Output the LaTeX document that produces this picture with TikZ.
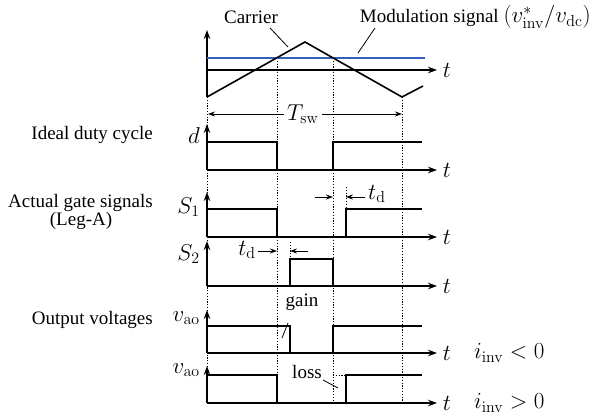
\documentclass[tikz,border=0pt]{standalone}
\usepackage[no-math]{fontspec}
\setmainfont{Liberation Serif}
\usepackage{graphicx}
\usetikzlibrary{arrows.meta}
\definecolor{modblue}{RGB}{52,98,185}
\newcommand{\mth}[1]{\scalebox{1.33}{\LARGE$#1$}}
\begin{document}
\begin{tikzpicture}[x=1pt,y=-1pt,
  lbl/.style={font=\fontsize{19}{22}\selectfont, inner sep=0pt},
  mlbl/.style={inner sep=0pt},
  axis/.style={line width=1.1pt, -{Stealth[length=9pt,width=6.5pt]}},
  sig/.style={line width=2pt, line join=miter},
  dots/.style={line width=0.8pt, dash pattern=on 1.2pt off 1.6pt},
  dim/.style={line width=0.9pt, -{Stealth[length=7pt,width=5pt]}},
  lead/.style={line width=0.8pt}]
\useasboundingbox (0,0) rectangle (592,417);

% dotted guide lines
\draw[dots] (207,97) -- (207,403);
\draw[dots] (277,58) -- (277,375);
\draw[dots] (333,58) -- (333,403);
\draw[dots] (402,97) -- (402,403);
\draw[dots] (290,242) -- (290,286);
\draw[dots] (346,187) -- (346,237);
\draw[dots] (333,375) -- (346,375);

% top panel: carrier and modulation
\draw[axis] (207,97) -- (207,30);
\draw[axis] (207,70) -- (437,70);
\node[mlbl] (t0) at (447,70) {\mth{t}};
\draw[modblue, line width=1.8pt] (207,58) -- (425,58);
\draw[line width=1.6pt, line join=miter] (207,97) -- (305,42) -- (402,97) -- (423,86);
\node[lbl] (car) at (251,17) {Carrier};
\node[lbl, anchor=east] (mod) at (591,17) {Modulation signal \mth{(v^*_{\mathrm{inv}}/v_{\mathrm{dc}})}};
\coordinate (c1) at (270,28); \coordinate (c2) at (288,47);
\coordinate (m1) at (375,28); \coordinate (m2) at (358,53);
\draw[lead] (c1) -- (c2);
\draw[lead] (m1) -- (m2);

% T_sw
\node[mlbl, inner sep=3pt] (tsw) at (303,114) {\mth{T_{\mathrm{sw}}}};
\coordinate (tswL) at (208,114); \coordinate (tswR) at (402,114);
\draw[dim] (tsw.west) -- (tswL);
\draw[dim] (tsw.east) -- (tswR);

% Ideal duty cycle
\draw[axis] (207,170) -- (207,124);
\draw[axis] (207,170) -- (437,170);
\node[mlbl] (t1) at (447,170) {\mth{t}};
\draw[sig] (207,142) -- (277,142) -- (277,170) -- (333,170) -- (333,142) -- (422,142);
\node[mlbl, anchor=east] (dl) at (200,136) {\mth{d}};
\node[lbl, anchor=east] (idc) at (153,135) {Ideal duty cycle};

% S1
\draw[axis] (207,237) -- (207,192);
\draw[axis] (207,237) -- (437,237);
\node[mlbl] (t2) at (447,237) {\mth{t}};
\draw[sig] (207,209) -- (277,209) -- (277,237) -- (346,237) -- (346,209) -- (422,209);
\node[mlbl, anchor=east] (s1) at (200,207) {\mth{S_1}};
\node[lbl, anchor=east] (ags) at (153,203) {Actual gate signals};
\node[lbl] (leg) at (81,221) {(Leg-A)};
\coordinate (a1s) at (315,197); \coordinate (a1e) at (333,197);
\coordinate (a2s) at (365,197); \coordinate (a2e) at (346,197);
\draw[dim] (a1s) -- (a1e);
\draw[dim] (a2s) -- (a2e);
\node[mlbl, anchor=west] (td1) at (368,194) {\mth{t_{\mathrm{d}}}};

% S2
\draw[axis] (207,286) -- (207,241);
\draw[axis] (207,286) -- (437,286);
\node[mlbl] (t3) at (447,286) {\mth{t}};
\draw[sig] (207,286) -- (290,286) -- (290,259) -- (333,259) -- (333,286) -- (422,286);
\node[mlbl, anchor=east] (s2) at (200,254) {\mth{S_2}};
\coordinate (b1s) at (258,251); \coordinate (b1e) at (277,251);
\coordinate (b2s) at (308,251); \coordinate (b2e) at (290,251);
\draw[dim] (b1s) -- (b1e);
\draw[dim] (b2s) -- (b2e);
\node[mlbl, anchor=east] (td2) at (256,250) {\mth{t_{\mathrm{d}}}};

% vao, i<0
\draw[axis] (207,353) -- (207,310);
\draw[axis] (207,353) -- (437,353);
\node[mlbl] (t4) at (447,353) {\mth{t}};
\draw[sig] (207,326) -- (290,326) -- (290,353) -- (333,353) -- (333,326) -- (422,326);
\node[mlbl, anchor=east] (v1) at (200,318) {\mth{v_{\mathrm{ao}}}};
\node[lbl, anchor=east] (ov) at (153,320) {Output voltages};
\node[lbl] (gain) at (302,302) {gain};
\coordinate (g1) at (288,323); \coordinate (g2) at (282,338);
\draw[lead] (g1) -- (g2);
\node[mlbl, anchor=west] (in) at (474,353) {\mth{i_{\mathrm{inv}} < 0}};

% vao, i>0
\draw[axis] (207,403) -- (207,366);
\draw[axis] (207,403) -- (437,403);
\node[mlbl] (t5) at (447,403) {\mth{t}};
\draw[sig] (207,375) -- (277,375) -- (277,403) -- (346,403) -- (346,375) -- (422,375);
\node[mlbl, anchor=east] (v2) at (200,370) {\mth{v_{\mathrm{ao}}}};
\node[lbl] (loss) at (307,372) {loss};
\coordinate (l1) at (323,380); \coordinate (l2) at (338,388);
\draw[lead] (l1) -- (l2);
\node[mlbl, anchor=west] (ip) at (474,403) {\mth{i_{\mathrm{inv}} > 0}};
\end{tikzpicture}
\end{document}
